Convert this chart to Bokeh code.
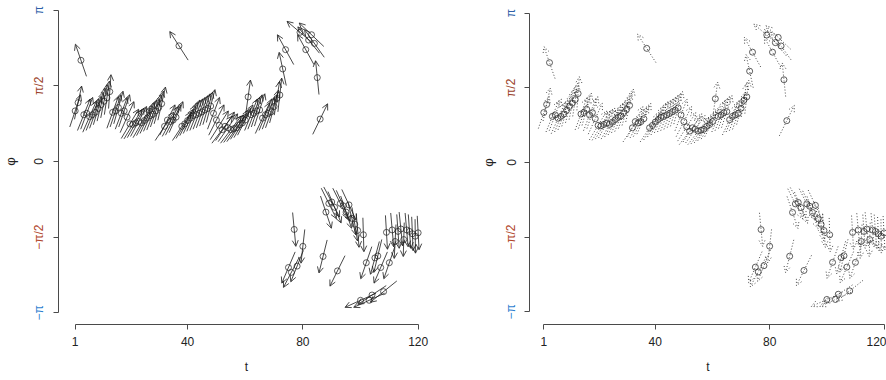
import math
from bokeh.plotting import figure
from bokeh.models import (ColumnDataSource, Arrow, OpenHead, FixedTicker,
                          Range1d, CustomJSTickFormatter)
from bokeh.layouts import row
from bokeh.embed import file_html
from bokeh.resources import INLINE
from bokeh.core.properties import value

# ---------------- data ----------------
t = list(range(1, 121))
phi = [
    1.05, 1.22, 2.10, 0.97, 1.00, 0.93, 0.97, 1.02, 1.10, 1.18,
    1.25, 1.32, 1.45, 1.02, 1.05, 1.12, 1.00, 1.05, 0.92, 0.78,
    0.77, 0.80, 0.83, 0.80, 0.85, 0.90, 0.95, 0.98, 1.05, 1.12,
    1.20, 0.73, 0.86, 0.83, 0.86, 0.92, 2.40, 0.73, 0.78, 0.85,
    0.90, 0.95, 0.97, 1.00, 1.03, 1.07, 1.10, 1.15, 1.00, 0.86,
    0.75, 0.66, 0.73, 0.70, 0.66, 0.68, 0.70, 0.76, 0.80, 0.86,
    1.34, 0.97, 1.00, 1.05, 1.07, 0.90, 0.97, 1.00, 1.03, 1.14,
    1.31, 1.38, 1.92, 2.32, -2.20, -2.30, -1.41, -2.17, 2.68, -1.76,
    2.32, 2.52, 2.63, 2.45, 1.74, 0.88, -1.97, -1.05, -0.87, -0.84,
    -0.95, -2.27, -0.87, -0.92, -1.05, -0.90, -1.18, -1.30, -1.43, -2.88,
    -1.52, -2.10, -2.88, -2.77, -2.00, -1.96, -2.20, -2.70, -1.47, -2.10,
    -1.42, -1.66, -1.45, -1.40, -1.62, -1.42, -1.45, -1.50, -1.55, -1.48,
]

x_ticks = [1, 40, 80, 120]
y_ticks = [-math.pi, -math.pi / 2, 0.0, math.pi / 2, math.pi]
y_tick_labels = ["−π", "−π/2", "0", "π/2", "π"]
y_tick_colors = ["#2f7fd0", "#b0452a", "#222222", "#9a3f2a", "#2f5fa8"]
y_title = "φ"
x_title = "t"

FONT = "Liberation Sans"
AXIS_COLOR = "#4a4a4a"
ASPECT = 1.7       # vertical stretch of arrow direction
HALF_LEN = 17      # half arrow length in px
H = 380


def label_strip(width, bb, yr, tick_x, title_x):
    """Narrow figure holding the coloured y tick labels and the y title."""
    s = figure(width=width, height=H, output_backend="svg", toolbar_location=None,
               x_range=Range1d(0, width), y_range=Range1d(*yr),
               x_axis_type=None, y_axis_type=None,
               min_border_left=0, min_border_right=0, min_border_top=0,
               min_border_bottom=bb)
    s.outline_line_color = None
    s.grid.visible = False
    src = ColumnDataSource(dict(x=[tick_x] * len(y_ticks), y=y_ticks,
                                text=y_tick_labels, color=y_tick_colors))
    s.text(x="x", y="y", text="text", source=src, angle=math.pi / 2,
           text_align="center", text_baseline="middle", text_color="color",
           text_font=value(FONT), text_font_size=value("12px"))
    s.text(x=[title_x], y=[0.0], text=[y_title], angle=math.pi / 2,
           text_align="center", text_baseline="middle", text_color="#222222",
           text_font=value(FONT), text_font_size=value("13px"))
    return s


def make_panel(width, bl, br, bb, xr, yr, dash, label_standoff, title_standoff):
    p = figure(width=width, height=H, output_backend="svg",
               toolbar_location=None, x_range=Range1d(*xr), y_range=Range1d(*yr),
               min_border_left=bl, min_border_right=br, min_border_top=0,
               min_border_bottom=bb)
    p.outline_line_color = None
    p.grid.visible = False

    frame_w = width - bl - br
    frame_h = H - bb
    kx = frame_w / (xr[1] - xr[0])
    ky = frame_h / (yr[1] - yr[0])

    x0, y0, x1, y1 = [], [], [], []
    for ti, ph in zip(t, phi):
        th = math.atan2(ASPECT * math.sin(ph), math.cos(ph))
        dx = HALF_LEN * math.cos(th) / kx
        dy = HALF_LEN * math.sin(th) / ky
        x0.append(ti - dx); y0.append(ph - dy)
        x1.append(ti + dx); y1.append(ph + dy)
    src = ColumnDataSource(dict(t=t, phi=phi, x0=x0, y0=y0, x1=x1, y1=y1))

    p.scatter("t", "phi", source=src, marker="circle", size=6,
              fill_color=None, line_color="#2a2a2a", line_width=0.75)

    head = OpenHead(size=6, line_width=0.8, line_color="#1a1a1a")
    if dash:
        head.line_dash = dash
    arr = Arrow(end=head, x_start="x0", y_start="y0", x_end="x1", y_end="y1",
                source=src, line_width=0.8, line_color="#1a1a1a")
    if dash:
        arr.line_dash = dash
    p.add_layout(arr)

    xa = p.xaxis[0]
    xa.ticker = FixedTicker(ticks=x_ticks)
    xa.bounds = (1, 120)
    xa.axis_line_color = AXIS_COLOR
    xa.major_tick_line_color = AXIS_COLOR
    xa.major_tick_in = 0
    xa.major_tick_out = 5
    xa.minor_tick_line_color = None
    xa.major_label_standoff = label_standoff
    xa.major_label_text_font = FONT
    xa.major_label_text_font_size = "12px"
    xa.major_label_text_color = "#222222"
    xa.axis_label = x_title
    xa.axis_label_standoff = title_standoff
    xa.axis_label_text_font = FONT
    xa.axis_label_text_font_size = "12px"
    xa.axis_label_text_font_style = "normal"
    xa.axis_label_text_color = "#222222"

    ya = p.yaxis[0]
    ya.ticker = FixedTicker(ticks=y_ticks)
    ya.bounds = (-math.pi, math.pi)
    ya.formatter = CustomJSTickFormatter(code="return ''")
    ya.major_label_standoff = 0
    ya.axis_line_color = AXIS_COLOR
    ya.major_tick_line_color = AXIS_COLOR
    ya.major_tick_in = 0
    ya.major_tick_out = 5
    ya.minor_tick_line_color = None
    return p


yr1 = (-3.382, 3.340)
yr2 = (-3.406, 3.406)
s1 = label_strip(52, 56, yr1, 38, 10)
p1 = make_panel(423, 6, 41, 56, (-4.79, 125.67), yr1, None, 7, 11)
s2 = label_strip(48, 53, yr2, 35.5, 13.3)
p2 = make_panel(363, 6, 0, 53, (-4.0, 120.87), yr2, "1 2", 7, 11)

layout = row(s1, p1, s2, p2)
open("out.html", "w").write(file_html(layout, INLINE))
